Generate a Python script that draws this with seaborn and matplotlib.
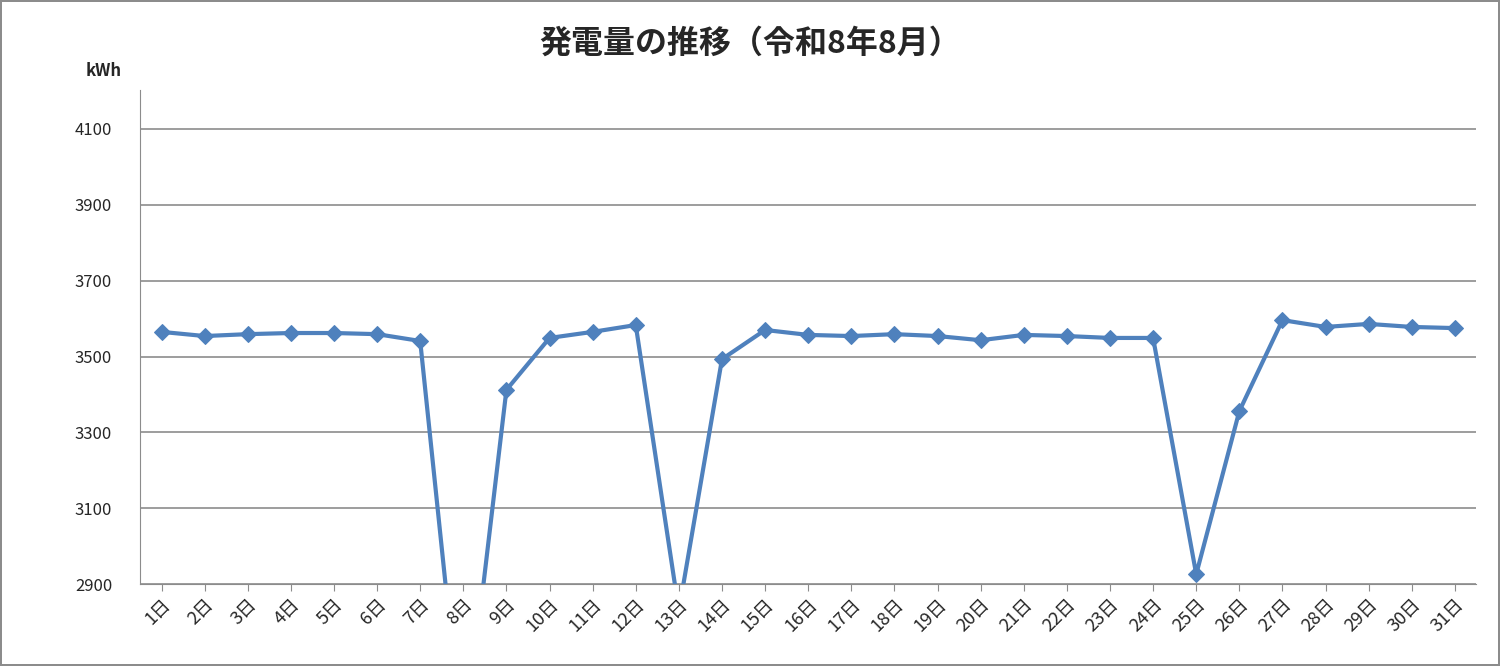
import matplotlib
matplotlib.use("Agg")
import matplotlib.pyplot as plt
import seaborn as sns
import pandas as pd

# daily generation (kWh); days 8 and 13 fall below the axis
days = [f"{d}日" for d in range(1, 32)]
values = [3565, 3554, 3559, 3562, 3562, 3559, 3541, 2450, 3412, 3549,
          3565, 3583, 2830, 3493, 3570, 3557, 3554, 3559, 3554, 3543,
          3557, 3554, 3549, 3549, 2926, 3356, 3596, 3578, 3586, 3578, 3575]
yticks = [2900, 3100, 3300, 3500, 3700, 3900, 4100]

sns.set_style("white")
plt.rcParams['font.family'] = ['Noto Sans CJK JP', 'DejaVu Sans']

df = pd.DataFrame({"day": days, "kwh": values, "x": range(len(days))})

fig = plt.figure(figsize=(15, 6.66), dpi=100)
fig.patch.set_edgecolor("#8c8c8c")
fig.patch.set_linewidth(1.5)
ax = fig.add_axes([0.0933, 0.123, 0.891, 0.742])

sns.lineplot(data=df, x="x", y="kwh", ax=ax, color="#4F81BD", linewidth=3,
             marker="D", markersize=8, markeredgecolor="#4F81BD")

ax.set_xlim(-0.5, len(days) - 0.5)
ax.set_ylim(2900, 4203)
ax.set_yticks(yticks)
ax.set_yticklabels([str(v) for v in yticks], fontsize=12)
ax.set_xticks(range(len(days)))
ax.set_xticklabels(days, rotation=45, ha="right", rotation_mode="anchor", fontsize=13)
ax.yaxis.grid(True, color="#8c8c8c", linewidth=1.2)
ax.set_axisbelow(True)
for s in ["top", "right"]:
    ax.spines[s].set_visible(False)
for s in ["left", "bottom"]:
    ax.spines[s].set_color("#8c8c8c")
ax.tick_params(axis="x", length=5, color="#8c8c8c", direction="out", bottom=True)
ax.tick_params(axis="y", length=0, pad=20)
ax.set_xlabel("")
ax.set_ylabel("")

fig.text(0.5, 0.935, "発電量の推移（令和8年8月）", ha="center", va="center",
         fontsize=23, fontweight="bold")
fig.text(0.057, 0.893, "kWh", ha="left", va="center", fontsize=12, fontweight="bold")

fig.savefig("out.png", dpi=100, edgecolor=fig.get_edgecolor())
